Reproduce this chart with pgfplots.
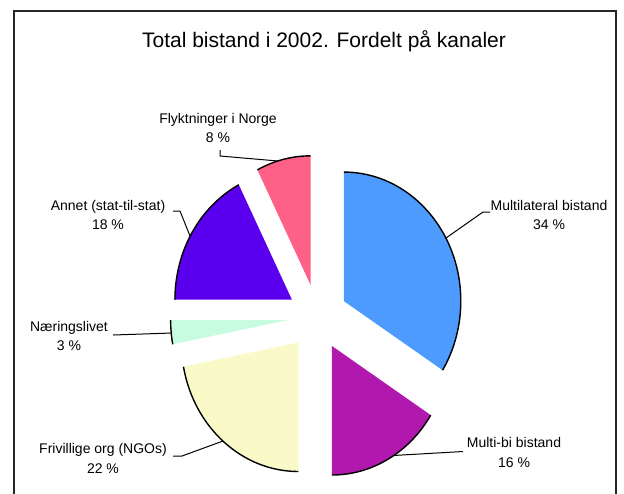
\documentclass[border=0pt]{standalone}
\usepackage{pgfplots}
\usepackage{pgfplotstable}
\pgfplotsset{compat=1.18}
\usepackage{fontspec}
\setmainfont{Liberation Sans}

\definecolor{cMultilat}{RGB}{77,155,255}
\definecolor{cMultibi}{RGB}{176,24,174}
\definecolor{cFrivil}{RGB}{250,250,200}
\definecolor{cNaering}{RGB}{200,252,224}
\definecolor{cAnnet}{RGB}{90,0,238}
\definecolor{cFlyk}{RGB}{255,96,136}

\pgfplotstableread{
name value
Multilateral 34
Multibi 16
Frivillige 22
Naering 3
Annet 17.5
Flyktninger 7.5
}\piedata

% pie geometry in pixel units of the reference
\newcommand\cx{317.5}
\newcommand\cy{317}
\newcommand\dd{30}
\newcommand\ey{1.103}

\newcommand\slice[3]{%
  \fill[#3] (axis cs:{\cx+\dd*sin((#1+#2)/2)},{\cy-\dd*\ey*cos((#1+#2)/2)})
     -- ++({90-(#1)}:58.5pt and 64.5pt)
     arc[start angle={90-(#1)}, end angle={90-(#2)}, x radius=58.5pt, y radius=64.5pt] -- cycle;
  \draw[line width=0.7pt, black] (axis cs:{\cx+\dd*sin((#1+#2)/2)},{\cy-\dd*\ey*cos((#1+#2)/2)})
     ++({90-(#1)}:58.5pt and 64.5pt)
     arc[start angle={90-(#1)}, end angle={90-(#2)}, x radius=58.5pt, y radius=64.5pt];
}

\newcommand\lbl[5]{%
  \node[anchor=base, font=\fontsize{7pt}{8pt}\selectfont, inner sep=0pt] at (axis cs:#1,#2) {#3};
  \node[anchor=base, font=\fontsize{7pt}{8pt}\selectfont, inner sep=0pt] at (axis cs:#1,#4) {#5};
}

\begin{document}
\begin{tikzpicture}
\pgfplotstablegetelem{0}{value}\of\piedata \pgfmathsetmacro\aB{3.6*\pgfplotsretval}
\pgfplotstablegetelem{1}{value}\of\piedata \pgfmathsetmacro\aC{\aB+3.6*\pgfplotsretval}
\pgfplotstablegetelem{2}{value}\of\piedata \pgfmathsetmacro\aD{\aC+3.6*\pgfplotsretval}
\pgfplotstablegetelem{3}{value}\of\piedata \pgfmathsetmacro\aE{\aD+3.6*\pgfplotsretval}
\pgfplotstablegetelem{4}{value}\of\piedata \pgfmathsetmacro\aF{\aE+3.6*\pgfplotsretval}
\pgfplotstablegetelem{5}{value}\of\piedata \pgfmathsetmacro\aG{\aF+3.6*\pgfplotsretval}
\begin{axis}[hide axis, scale only axis, width=312pt, height=246.5pt,
  xmin=0, xmax=624, ymin=0, ymax=493, y dir=reverse, clip=false]
% frame
\draw[line width=0.6pt, black!85] (axis cs:14,11) rectangle (axis cs:616,520);
% title
\node[anchor=base, font=\fontsize{10.5pt}{12pt}\selectfont, inner sep=0pt] at (axis cs:324,47) {Total bistand i 2002. Fordelt på kanaler};
% slices
\slice{0}{\aB}{cMultilat}
\slice{\aB}{\aC}{cMultibi}
\slice{\aC}{\aD}{cFrivil}
\slice{\aD}{\aE}{cNaering}
\slice{\aE}{\aF}{cAnnet}
\slice{\aF}{\aG}{cFlyk}
% leader lines
\draw[line width=0.5pt] (axis cs:490,212) -- (axis cs:483,212) -- (axis cs:446,238);
\draw[line width=0.5pt] (axis cs:463,451.5) -- (axis cs:393,455.5);
\draw[line width=0.5pt] (axis cs:173,456) -- (axis cs:182,456) -- (axis cs:223,441);
\draw[line width=0.5pt] (axis cs:113,335) -- (axis cs:172,333);
\draw[line width=0.5pt] (axis cs:173,211) -- (axis cs:180,211) -- (axis cs:190,236);
\draw[line width=0.5pt] (axis cs:220,150) -- (axis cs:220,156) -- (axis cs:278,161);
% labels
\lbl{549}{210}{Multilateral bistand}{229}{34 \%}
\lbl{514}{447}{Multi-bi bistand}{467}{16 \%}
\lbl{103}{453}{Frivillige org (NGOs)}{473}{22 \%}
\lbl{69}{331}{Næringslivet}{350}{3 \%}
\lbl{108}{210}{Annet (stat-til-stat)}{229}{18 \%}
\lbl{218}{123}{Flyktninger i Norge}{142}{8 \%}
\end{axis}
\pgfresetboundingbox
\path (current axis.south west) rectangle (current axis.north east);
\end{tikzpicture}
\end{document}
